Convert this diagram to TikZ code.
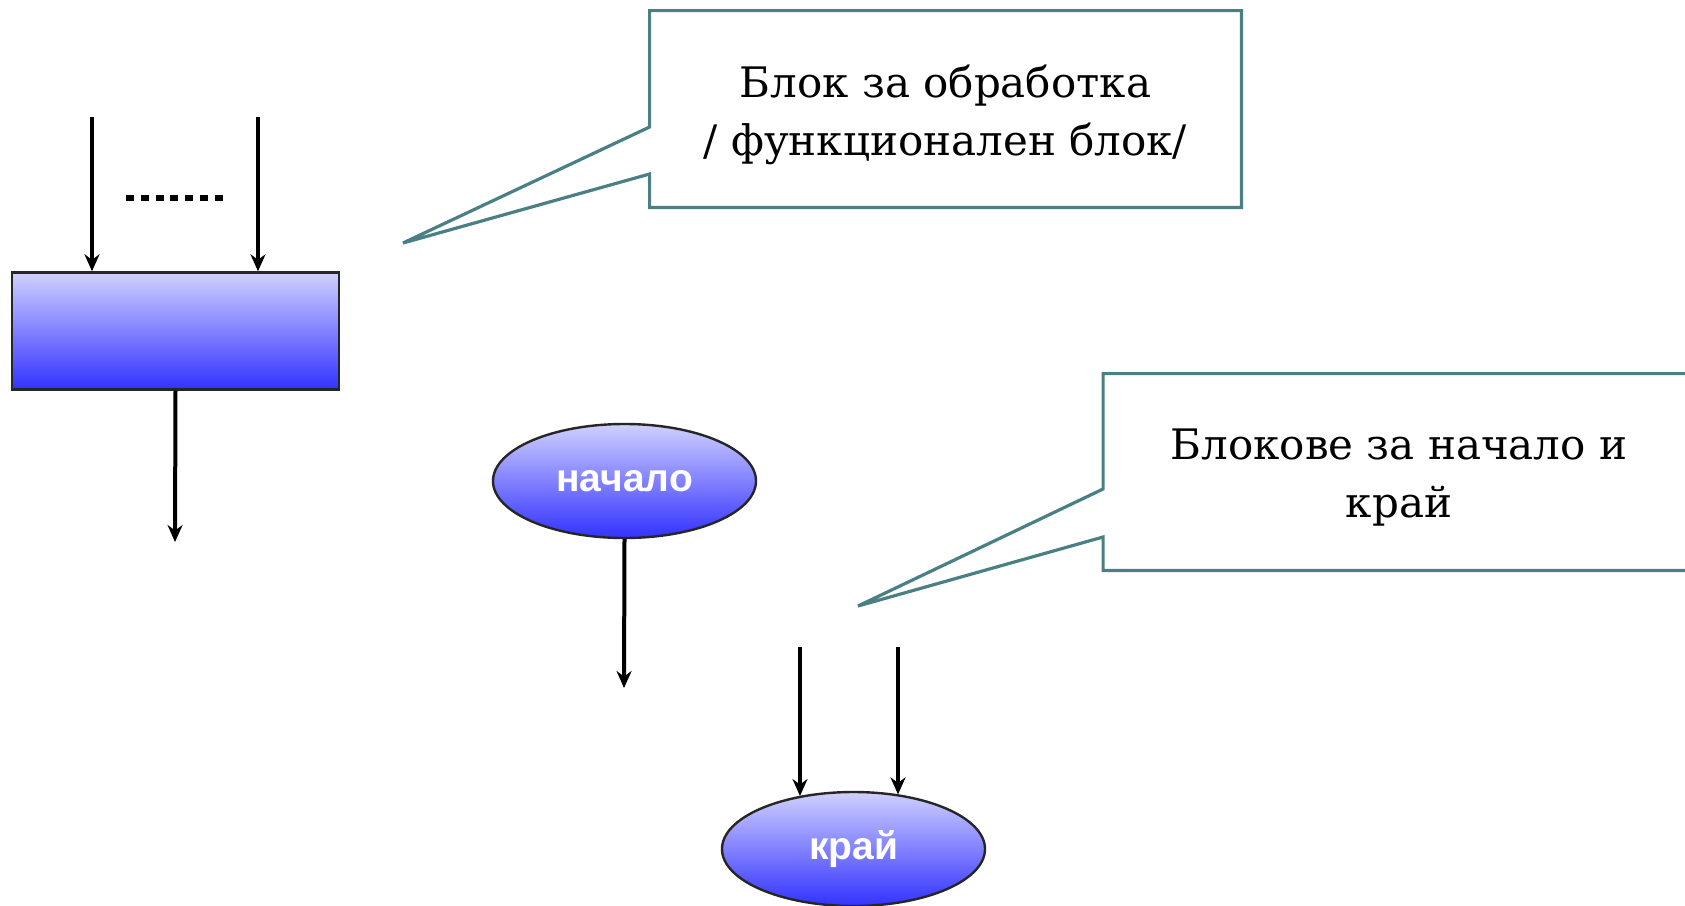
\documentclass[tikz,border=0pt]{standalone}
\usepackage{fontspec}
\setmainfont{DejaVu Serif}
\newfontfamily\labelfont{Liberation Sans}
\usetikzlibrary{shapes.geometric,arrows.meta}
\definecolor{calloutline}{RGB}{74,128,132}
\definecolor{shadetop}{RGB}{208,208,255}
\definecolor{shadebottom}{RGB}{50,50,255}

\begin{document}
\begin{tikzpicture}[x=0.5pt,y=-0.5pt,
  arr/.style={line width=2pt,-{Stealth[length=8.5pt,width=7.5pt]}},
  procbox/.style={draw=black!85,line width=1.2pt,top color=shadetop,bottom color=shadebottom,
    minimum width=163.5pt,minimum height=58.5pt,inner sep=0pt},
  terminal/.style={ellipse,draw=black!85,line width=1.2pt,top color=shadetop,bottom color=shadebottom,
    minimum width=131.5pt,minimum height=57pt,inner sep=0pt,text=white,
    font=\labelfont\bfseries\fontsize{19.5}{22}\selectfont},
  calloutbox/.style={minimum width=295.5pt,minimum height=98pt,inner sep=0pt},
  callouttext/.style={align=center,inner sep=0pt,font=\fontsize{21}{29}\selectfont},
  calloutedge/.style={draw=calloutline,line width=1.6pt,line join=miter}
]
\useasboundingbox (0,0) rectangle (1685,905);
\clip (0,0) rectangle (1685,905);

% processing block with its inputs and output
\node[procbox] (proc) at (175.5,331) {};
\coordinate (in1) at (92,117);
\coordinate (in2) at (258,117);
\coordinate (out) at (175,542);
\draw[arr] (in1) -- (in1 |- proc.north);
\draw[arr] (in2) -- (in2 |- proc.north);
\draw[arr] (proc.south) -- (out);
\draw[line width=3pt,dash pattern=on 4pt off 3.4pt] (126,198) -- (223,198);

% start terminal
\node[terminal] (start) at (624.5,481) {\raisebox{-3pt}{начало}};
\coordinate (startout) at (624,688);
\draw[arr] (start.south) -- (startout);

% end terminal
\node[terminal] (stop) at (853.5,849) {\raisebox{-2.5pt}{край}};
\coordinate (e1) at (800,647);
\coordinate (e2) at (898,647);
\draw[arr] (e1) -- (e1 |- stop.136);
\draw[arr] (e2) -- (e2 |- stop.50);

% callout: processing block
\node[calloutbox] (c1) at (945.5,109) {};
\node[callouttext] (c1text) at ([yshift=-3pt]c1.center) {Блок за обработка\\/ функционален блок/};
\coordinate (t1) at (403,243);
\coordinate (j1a) at (650,127);
\coordinate (j1b) at (650,174);
\draw[calloutedge] (c1.north west) -- (c1.north east) -- (c1.south east) -- (c1.south west)
  -- (c1.south west |- j1b) -- (t1) -- (c1.north west |- j1a) -- cycle;

% callout: start and end blocks
\node[calloutbox] (c2) at (1399,472) {};
\node[callouttext] (c2text) at ([yshift=-3pt]c2.center) {Блокове за начало и\\край};
\coordinate (t2) at (858,606);
\coordinate (j2a) at (1105,489);
\coordinate (j2b) at (1105,537);
\draw[calloutedge] (c2.north west) -- (c2.north east) -- (c2.south east) -- (c2.south west)
  -- (c2.south west |- j2b) -- (t2) -- (c2.north west |- j2a) -- cycle;
\end{tikzpicture}
\end{document}
